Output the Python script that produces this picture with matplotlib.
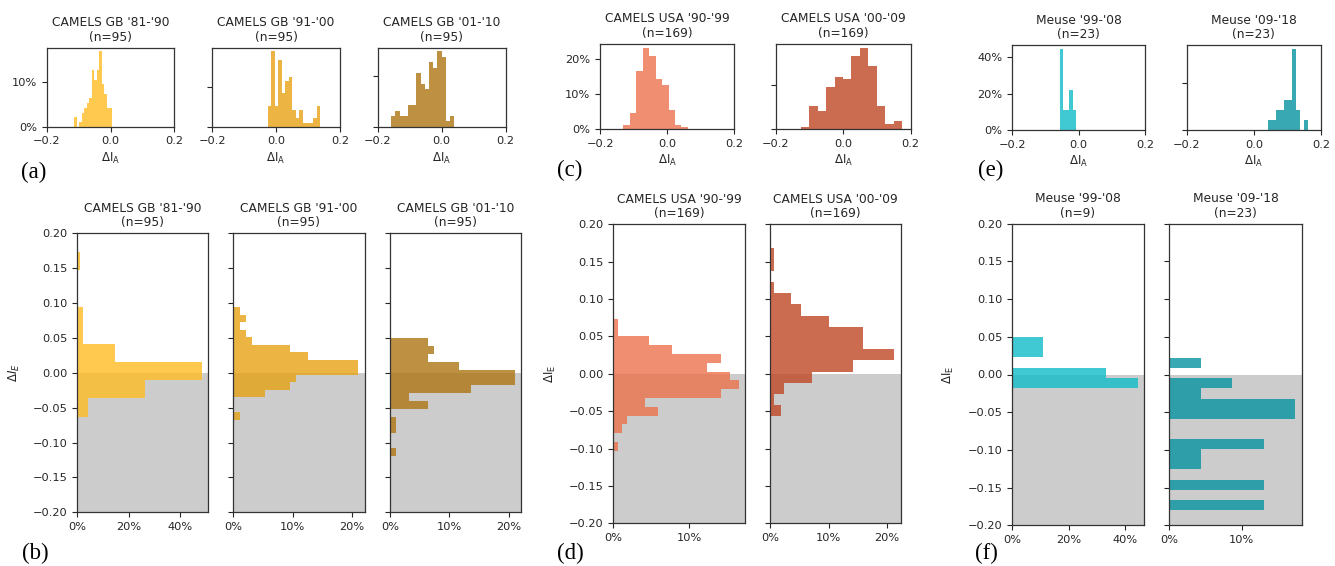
import numpy as np
import matplotlib
matplotlib.use("Agg")
import matplotlib.pyplot as plt
from matplotlib.ticker import PercentFormatter, MultipleLocator

# ---------------- data ----------------
# Top row: histograms of Delta I_A  (counts per bin, bin range lo..hi)
gb81_A_counts = [2, 0, 1, 3, 4, 5, 6, 12, 10, 12, 16, 9, 7, 4, 4]
gb81_A_range = (-0.1144, 0.0037)
gb91_A_counts = [5, 18, 5, 16, 8, 11, 12, 4, 2, 4, 1, 1, 1, 2, 5]
gb91_A_range = (-0.025, 0.139)
gb01_A_counts = [2, 3, 2, 2, 4, 4, 10, 8, 7, 12, 11, 14, 13, 1, 2]
gb01_A_range = (-0.158, 0.039)
usa90_A_counts = [2, 8, 28, 39, 35, 24, 21, 9, 2, 1]
usa90_A_range = (-0.131, 0.062)
usa00_A_counts = [1, 9, 7, 16, 20, 19, 28, 31, 24, 9, 2, 3]
usa00_A_range = (-0.126, 0.175)
meuse99_A_counts = [4, 1, 1, 2, 1]
meuse99_A_range = (-0.0566, -0.0095)
meuse09_A_counts = [1, 1, 2, 2, 3, 3, 8, 2, 0, 1]
meuse09_A_range = (0.043, 0.162)

# Bottom row: histograms of Delta I_E (counts per bin, from low to high)
gb81_E_counts = [4, 25, 46, 14, 2, 2, 0, 0, 1]
gb81_E_range = (-0.063, 0.173)
gb91_E_counts = [1, 0, 0, 5, 9, 10, 20, 20, 12, 9, 3, 2, 1, 2, 1]
gb91_E_range = (-0.067, 0.0937)
gb01_E_counts = [1, 0, 0, 1, 1, 0, 6, 3, 13, 20, 20, 11, 6, 7, 6]
gb01_E_range = (-0.1195, 0.0498)
usa90_E_counts = [1, 0, 2, 3, 10, 7, 24, 28, 26, 21, 24, 13, 8, 1, 1]
usa90_E_range = (-0.1028, 0.0734)
usa00_E_counts = [3, 1, 4, 12, 24, 36, 27, 27, 17, 9, 6, 1, 0, 1, 1]
usa00_E_range = (-0.0569, 0.1679)
meuse99_E_counts = [4, 3, 0, 1, 1]
meuse99_E_range = (-0.0175, 0.0493)
meuse09_E_counts = [3, 0, 3, 0, 1, 1, 3, 0, 0, 4, 4, 1, 2, 0, 1]
meuse09_E_range = (-0.1797, 0.0219)

top_titles = ["CAMELS GB '81-'90\n(n=95)", "CAMELS GB '91-'00\n(n=95)", "CAMELS GB '01-'10\n(n=95)",
              "CAMELS USA '90-'99\n(n=169)", "CAMELS USA '00-'09\n(n=169)",
              "Meuse '99-'08\n(n=23)", "Meuse '09-'18\n(n=23)"]
bottom_titles = ["CAMELS GB '81-'90\n(n=95)", "CAMELS GB '91-'00\n(n=95)", "CAMELS GB '01-'10\n(n=95)",
                 "CAMELS USA '90-'99\n(n=169)", "CAMELS USA '00-'09\n(n=169)",
                 "Meuse '99-'08\n(n=9)", "Meuse '09-'18\n(n=23)"]
top_n = [95, 95, 95, 169, 169, 9, 23]
bottom_n = [95, 95, 95, 169, 169, 9, 23]
panel_letters = ["(a)", "(b)", "(c)", "(d)", "(e)", "(f)"]

# ---------------- style ----------------
colors = ["#FFBC23", "#E6A214", "#AE7513", "#EC724C", "#BF4624", "#10BBC9", "#0694A0"]
ALPHA = 0.8
TXT = "#262626"
plt.rcParams.update({
    "font.family": ["DejaVu Sans"],
    "font.size": 8.5,
    "text.color": TXT,
    "axes.labelcolor": TXT,
    "xtick.color": TXT,
    "ytick.color": TXT,
    "xtick.labelsize": 8.2,
    "ytick.labelsize": 8.2,
    "axes.edgecolor": "#333333",
    "axes.linewidth": 0.9,
    "axes.titlesize": 8.8,
})

W, H = 1335, 566
fig = plt.figure(figsize=(W / 100, H / 100), dpi=100)


def rect(l, t, r, b):
    return [l / W, 1 - b / H, (r - l) / W, (b - t) / H]


top_boxes = [(46.7, 47.7, 174.3, 126.7), (212, 47.7, 340, 126.7), (377.7, 47.7, 505.7, 126.7),
             (600, 43.7, 734.3, 129.3), (775.7, 43.7, 910.7, 129.3),
             (1012.3, 45, 1145.3, 130), (1186.7, 45, 1321, 130)]
bottom_boxes = [(77.3, 233.3, 208.3, 512.3), (233.3, 233.3, 364.7, 512.3), (390, 233.3, 521.3, 512.3),
                (613.3, 224.3, 745, 523.3), (770.3, 224.3, 900.7, 523.3),
                (1012, 223.7, 1144, 525.3), (1169.3, 223.7, 1301.7, 525.3)]

top_data = [(gb81_A_counts, gb81_A_range), (gb91_A_counts, gb91_A_range), (gb01_A_counts, gb01_A_range),
            (usa90_A_counts, usa90_A_range), (usa00_A_counts, usa00_A_range),
            (meuse99_A_counts, meuse99_A_range), (meuse09_A_counts, meuse09_A_range)]
bottom_data = [(gb81_E_counts, gb81_E_range), (gb91_E_counts, gb91_E_range), (gb01_E_counts, gb01_E_range),
               (usa90_E_counts, usa90_E_range), (usa00_E_counts, usa00_E_range),
               (meuse99_E_counts, meuse99_E_range), (meuse09_E_counts, meuse09_E_range)]

top_ystep = [0.1, 0.1, 0.1, 0.1, 0.1, 0.2, 0.2]
bottom_xstep = [0.2, 0.1, 0.1, 0.1, 0.1, 0.2, 0.1]
group_first = [True, False, False, True, False, True, False]
ylabels = [r"$\Delta I_E$", None, None, r"$\Delta$I$_\mathrm{E}$", None, r"$\Delta$I$_\mathrm{E}$", None]


def draw_hist(ax, counts, rng, n, color, orientation):
    counts = np.asarray(counts, dtype=float)
    edges = np.linspace(rng[0], rng[1], len(counts) + 1)
    centers = 0.5 * (edges[:-1] + edges[1:])
    ax.hist(centers, bins=edges, weights=counts / n, color=color, alpha=ALPHA,
            linewidth=0, orientation=orientation, zorder=2)


# top row
for i in range(7):
    ax = fig.add_axes(rect(*top_boxes[i]))
    counts, rng = top_data[i]
    draw_hist(ax, counts, rng, top_n[i], colors[i], "vertical")
    ax.set_xlim(-0.2, 0.2)
    ax.xaxis.set_major_locator(MultipleLocator(0.2))
    ax.xaxis.set_major_formatter(plt.FuncFormatter(lambda v, p: f"{v:.1f}".replace("-", "\u2212")))
    ax.yaxis.set_major_locator(MultipleLocator(top_ystep[i]))
    ax.yaxis.set_major_formatter(PercentFormatter(1, decimals=0))
    ax.set_xlabel(r"$\Delta$I$_\mathrm{A}$", fontsize=8.5, labelpad=3)
    ax.set_title(top_titles[i], pad=5, linespacing=1.15)
    if not group_first[i]:
        ax.tick_params(labelleft=False)

# bottom row
for i in range(7):
    ax = fig.add_axes(rect(*bottom_boxes[i]))
    ax.axhspan(-0.2, 0.0, color="#cccccc", lw=0, zorder=0)
    counts, rng = bottom_data[i]
    draw_hist(ax, counts, rng, bottom_n[i], colors[i], "horizontal")
    ax.set_ylim(-0.2, 0.2)
    ax.yaxis.set_major_locator(MultipleLocator(0.05))
    ax.yaxis.set_major_formatter(plt.FuncFormatter(lambda v, p: f"{v:.2f}".replace("-", "\u2212")))
    ax.xaxis.set_major_locator(MultipleLocator(bottom_xstep[i]))
    ax.xaxis.set_major_formatter(PercentFormatter(1, decimals=0))
    ax.set_title(bottom_titles[i], pad=5, linespacing=1.15)
    if group_first[i]:
        ax.set_ylabel(ylabels[i], fontsize=8.5, labelpad=8)
    else:
        ax.tick_params(labelleft=False)

# panel letters
letter_pos = [(21, 172), (22, 553), (557, 170), (557, 553), (978, 170), (975, 553)]
for lab, (x, y) in zip(panel_letters, letter_pos):
    fig.text(x / W, 1 - y / H, lab, fontsize=16.5, family="Liberation Serif",
             ha="left", va="center", color="black")

fig.savefig("out.png", dpi=100)
